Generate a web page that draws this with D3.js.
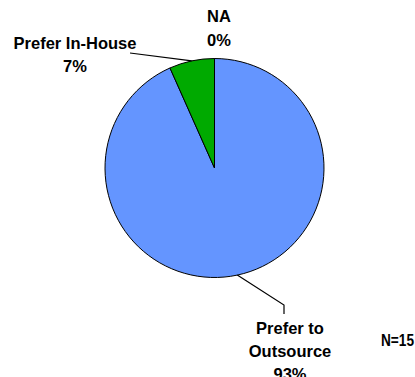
<!DOCTYPE html>
<html>
<head>
<meta charset="utf-8">
<script src="https://cdn.jsdelivr.net/npm/d3@7"></script>
<style>
  body { margin: 0; background: #fff; }
  svg text { font-family: "Liberation Sans", Arial, sans-serif; font-weight: bold; font-size: 16.5px; fill: #000; }
</style>
</head>
<body>
<div id="chart"></div>
<script>
// 데이터
const categories = ["Prefer to Outsource", "Prefer In-House", "NA"];
const counts = [14, 1, 0];
const percentLabels = ["93%", "7%", "0%"];
const sampleNote = "N=15";

const width = 415, height = 377;
const cx = 214.5, cy = 168, r = 109.5;
const colors = ["#6495ff", "#00aa00", "#ffffff"];

const svg = d3.select("#chart").append("svg")
  .attr("width", width)
  .attr("height", height);

const pie = d3.pie().sort(null).value(d => d)(counts);
const arc = d3.arc().innerRadius(0).outerRadius(r);

const g = svg.append("g").attr("transform", `translate(${cx},${cy})`);

g.selectAll("path.slice")
  .data(pie.filter(d => d.value > 0))
  .join("path")
  .attr("class", "slice")
  .attr("d", arc)
  .attr("fill", d => colors[d.index])
  .attr("stroke", "#000")
  .attr("stroke-width", 1);

// 라벨 위치 (수동 배치)
const labelPos = [
  { lines: ["Prefer to", "Outsource"], x: 290, y: 334, gap: 23, bend: [284, 305], end: [284, 314] },
  { lines: ["Prefer In-House"], x: 75, y: 49, gap: 23, end: [130, 53] },
  { lines: ["NA"], x: 219, y: 22, gap: 24 }
];

function arcPoint(d) {
  const a = (d.startAngle + d.endAngle) / 2;
  return [cx + r * Math.sin(a), cy - r * Math.cos(a)];
}

// 리더선
pie.forEach((d, i) => {
  const lp = labelPos[i];
  if (!lp.end) return;
  const pts = [arcPoint(d)];
  if (lp.bend) pts.push(lp.bend);
  pts.push(lp.end);
  svg.append("path")
    .attr("d", d3.line()(pts))
    .attr("fill", "none")
    .attr("stroke", "#000")
    .attr("stroke-width", 1.2);
});

// 텍스트
pie.forEach((d, i) => {
  const lp = labelPos[i];
  const t = svg.append("text").attr("text-anchor", "middle");
  lp.lines.concat([percentLabels[i]]).forEach((s, k) => {
    t.append("tspan").attr("x", lp.x).attr("y", lp.y + k * lp.gap).text(s);
  });
});

svg.append("text")
  .attr("x", 381).attr("y", 346)
  .attr("textLength", 33)
  .attr("lengthAdjust", "spacingAndGlyphs")
  .text(sampleNote);
</script>
</body>
</html>
